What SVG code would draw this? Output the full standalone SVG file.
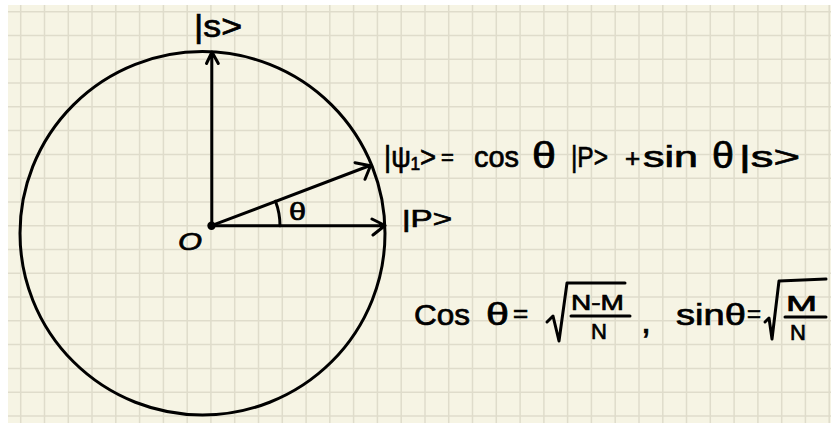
<svg xmlns="http://www.w3.org/2000/svg" width="831" height="423" viewBox="0 0 831 423">
<style>
.ink{fill:none;stroke:#000;stroke-width:3;stroke-linecap:round;stroke-linejoin:round}
.grid{fill:none;stroke:#dfdccb;stroke-width:1.5}
.t{font-family:"Liberation Sans","DejaVu Sans",sans-serif;fill:#000;stroke:#000;stroke-width:0.7}
</style>
<rect width="831" height="423" fill="#ffffff"/>
<rect x="8" y="5" width="823" height="418" fill="#f6f4e4"/>
<path class="grid" d="M20.7 5V423M44.5 5V423M68.3 5V423M92 5V423M115.8 5V423M139.6 5V423M163.4 5V423M187.2 5V423M210.9 5V423M234.7 5V423M258.5 5V423M282.3 5V423M306.1 5V423M329.8 5V423M353.6 5V423M377.4 5V423M401.2 5V423M425 5V423M448.7 5V423M472.5 5V423M496.3 5V423M520.1 5V423M543.9 5V423M567.6 5V423M591.4 5V423M615.2 5V423M639 5V423M662.8 5V423M686.5 5V423M710.3 5V423M734.1 5V423M757.9 5V423M781.7 5V423M805.4 5V423M829.2 5V423M8 11.7H831M8 35.5H831M8 59.3H831M8 83H831M8 106.8H831M8 130.6H831M8 154.4H831M8 178.2H831M8 201.9H831M8 225.7H831M8 249.5H831M8 273.3H831M8 297.1H831M8 320.8H831M8 344.6H831M8 368.4H831M8 392.2H831M8 416H831"/>
<g id="circle">
<ellipse class="ink" cx="202.5" cy="233.3" rx="182.5" ry="181.7"/>
</g>
<g id="origin">
<circle cx="211.5" cy="225.7" r="4.2" fill="#000"/>
<text class="t" x="178" y="250" font-size="24" font-style="italic" textLength="24" lengthAdjust="spacingAndGlyphs">O</text>
</g>
<g id="connectors">
<path class="ink" d="M211.8 225.7V52.5M206.5 63.5L212 52L218.3 63.5"/>
<path class="ink" d="M211.5 225.7H384.5M372 219L385 225.5L373 235"/>
<path class="ink" d="M211.5 225.7L370 165.5M355 162.7L370.5 165.8L365 179.3"/>
<path class="ink" d="M280 225.7A68.5 68.5 0 0 0 275.5 201.2"/>
</g>
<g id="theta">
<text class="t" x="289" y="220" font-size="24" textLength="17" lengthAdjust="spacingAndGlyphs">θ</text>
</g>
<g id="s-label">
<text class="t" x="194" y="37" font-size="32" textLength="48" lengthAdjust="spacingAndGlyphs">|s&gt;</text>
</g>
<g id="p-label">
<text class="t" x="402" y="227" font-size="24" textLength="50" lengthAdjust="spacingAndGlyphs">|P&gt;</text>
</g>
<g id="psi-eq">
<text class="t" x="384" y="167" font-size="30" textLength="52" lengthAdjust="spacingAndGlyphs">|ψ₁&gt;</text>
<text class="t" x="441" y="165" font-size="22">=</text>
<text class="t" x="474" y="167" font-size="30" textLength="45" lengthAdjust="spacingAndGlyphs">cos</text>
<text class="t" x="532" y="168" font-size="36" textLength="24" lengthAdjust="spacingAndGlyphs">θ</text>
<text class="t" x="571" y="167" font-size="30" textLength="37" lengthAdjust="spacingAndGlyphs">|P&gt;</text>
<text class="t" x="625" y="167" font-size="26">+</text>
<text class="t" x="643" y="167" font-size="30" textLength="55" lengthAdjust="spacingAndGlyphs">sin</text>
<text class="t" x="712" y="168" font-size="36" textLength="22" lengthAdjust="spacingAndGlyphs">θ</text>
<text class="t" x="739" y="167" font-size="30" textLength="61" lengthAdjust="spacingAndGlyphs">|s&gt;</text>
</g>
<g id="formula">
<text class="t" x="414" y="325" font-size="30" textLength="56" lengthAdjust="spacingAndGlyphs">Cos</text>
<text class="t" x="486" y="325" font-size="32" textLength="23" lengthAdjust="spacingAndGlyphs">θ</text>
<text class="t" x="513" y="322" font-size="26">=</text>
<path class="ink" d="M547 322L553 316L559 341L567 283H625"/>
<text class="t" x="571" y="310" font-size="22" textLength="53" lengthAdjust="spacingAndGlyphs">N-M</text>
<path class="ink" d="M571 316H630"/>
<text class="t" x="591" y="339" font-size="22">N</text>
<text class="t" x="641" y="333" font-size="36">,</text>
<text class="t" x="676" y="325" font-size="30" textLength="70" lengthAdjust="spacingAndGlyphs">sinθ</text>
<text class="t" x="747" y="322" font-size="24">=</text>
<path class="ink" d="M765 322L769 318L772 339L779 281L826 279"/>
<text class="t" x="786" y="311" font-size="22" textLength="31" lengthAdjust="spacingAndGlyphs">M</text>
<path class="ink" d="M785 317H826"/>
<text class="t" x="790" y="340" font-size="22">N</text>
</g>
</svg>
